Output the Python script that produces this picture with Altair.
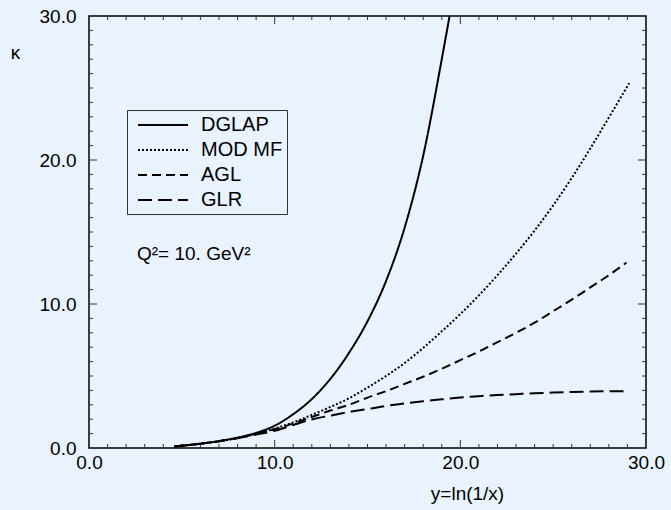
import altair as alt
import pandas as pd

# Gluon-density ratio kappa versus y = ln(1/x) at Q^2 = 10 GeV^2
series_names = ["DGLAP", "MOD MF", "AGL", "GLR"]

dglap_y = [4.6, 6, 7, 8, 9, 10, 11, 12, 13, 14, 15, 16, 17, 18, 19, 19.42]
dglap_k = [0.1, 0.3, 0.48, 0.72, 1.05, 1.55, 2.35, 3.4, 4.8, 6.6, 8.8, 11.6, 15.3, 20.3, 27.0, 30.0]

modmf_y = [4.6, 6, 7, 8, 9, 10, 11, 12, 13, 14, 15, 16, 17, 18, 19, 20, 21, 22, 23, 24, 25, 26, 27, 28, 29.1]
modmf_k = [0.1, 0.3, 0.47, 0.7, 1.0, 1.35, 1.78, 2.3, 2.85, 3.45, 4.2, 5.0, 5.9, 6.95, 8.1, 9.3, 10.6,
           12.0, 13.5, 15.1, 16.85, 18.75, 20.8, 22.95, 25.35]

agl_y = [4.6, 6, 7, 8, 9, 10, 11, 12, 13, 14, 15, 16, 17, 18, 19, 20, 21, 22, 23, 24, 25, 26, 27, 28, 28.95]
agl_k = [0.1, 0.3, 0.47, 0.7, 0.98, 1.3, 1.7, 2.15, 2.6, 3.0, 3.5, 3.95, 4.45, 4.95, 5.5, 6.1, 6.7,
         7.35, 8.0, 8.7, 9.5, 10.3, 11.15, 12.0, 12.88]

glr_y = [4.6, 6, 7, 8, 9, 10, 11, 12, 13, 14, 15, 16, 17, 18, 19, 20, 21, 22, 23, 24, 25, 26, 27, 28, 29.1]
glr_k = [0.1, 0.3, 0.47, 0.68, 0.93, 1.2, 1.6, 1.98, 2.25, 2.5, 2.7, 2.92, 3.1, 3.25, 3.38, 3.5, 3.6,
         3.68, 3.74, 3.8, 3.85, 3.89, 3.92, 3.94, 3.95]

major_ticks = [0, 10, 20, 30]
inner_major = [10, 20]
minor_ticks = [v for v in range(1, 30) if v % 10 != 0]

dash_styles = [[1, 0], [2, 2], [9, 5], [14, 6]]

W, H = 557, 432
BG = "#e8f3fd"
FONT = "Liberation Sans"

rows = []
for name, xs, ks in [("DGLAP", dglap_y, dglap_k), ("MOD MF", modmf_y, modmf_k),
                     ("AGL", agl_y, agl_k), ("GLR", glr_y, glr_k)]:
    for i, (a, b) in enumerate(zip(xs, ks)):
        rows.append({"series": name, "y": a, "kappa": b, "order": i})
curves = pd.DataFrame(rows)

xscale = alt.Scale(domain=[0, 30], nice=False, zero=False)
yscale = alt.Scale(domain=[0, 30], nice=False, zero=False)

# legend key: a horizontal stroke, 2.5 symbol-widths long, shifted to the right
legend_key = "M -0.4 0 L 4.6 0"

lines = alt.Chart(curves).mark_line(
    color="black", strokeWidth=2, clip=True, interpolate="monotone"
).encode(
    x=alt.X("y:Q", scale=xscale,
            axis=alt.Axis(values=major_ticks, format=".1f", ticks=False, domain=False, grid=False,
                          labelFontSize=19, labelFont=FONT, labelColor="black",
                          labelPadding=5, labelFlush=False, labelOverlap=False,
                          title="y=ln(1/x)", titleFont=FONT, titleFontSize=19,
                          titleFontWeight="normal", titleColor="black",
                          titleX=378, titleY=51, titleAlign="center", titleBaseline="alphabetic")),
    y=alt.Y("kappa:Q", scale=yscale,
            axis=alt.Axis(values=major_ticks, format=".1f", ticks=False, domain=False, grid=False,
                          labelFontSize=19, labelFont=FONT, labelColor="black",
                          labelPadding=13, labelFlush=False, labelOverlap=False,
                          title="κ", titleFont=FONT, titleFontSize=19,
                          titleFontWeight="normal", titleColor="black", titleAngle=0,
                          titleX=-74, titleY=36, titleAlign="center", titleBaseline="middle")),
    strokeDash=alt.StrokeDash(
        "series:N",
        scale=alt.Scale(domain=series_names, range=dash_styles),
        legend=alt.Legend(orient="none", legendX=38, legendY=94, title=None,
                          symbolType=legend_key, symbolSize=400, symbolStrokeWidth=2,
                          symbolStrokeColor="black", labelFontSize=20, labelFont=FONT,
                          labelColor="black", labelOffset=48, rowPadding=4, padding=4,
                          strokeColor="#333333", fillColor=BG),
    ),
    order="order:Q",
)

def tick_layer(values, length, side):
    df = pd.DataFrame({"v": values})
    base = alt.Chart(df).mark_rule(color="#333333", strokeWidth=1)
    if side == "bottom":
        return base.encode(x=alt.X("v:Q", scale=xscale), y=alt.value(H), y2=alt.value(H - length))
    if side == "top":
        return base.encode(x=alt.X("v:Q", scale=xscale), y=alt.value(0), y2=alt.value(length))
    if side == "left":
        return base.encode(y=alt.Y("v:Q", scale=yscale), x=alt.value(0), x2=alt.value(length))
    return base.encode(y=alt.Y("v:Q", scale=yscale), x=alt.value(W), x2=alt.value(W - length))

ticks = []
for side in ["bottom", "top", "left", "right"]:
    ticks.append(tick_layer(minor_ticks, 4, side))
    ticks.append(tick_layer(inner_major, 8, side))

note = alt.Chart(pd.DataFrame({"t": ["Q²= 10. GeV²"]})).mark_text(
    align="left", baseline="alphabetic", fontSize=19, font=FONT, color="black"
).encode(x=alt.value(48), y=alt.value(244), text="t:N")

chart = alt.layer(*ticks, lines, note).properties(
    width=W, height=H,
    background=BG,
    padding={"left": 89, "top": 16, "right": 25, "bottom": 62},
    autosize=alt.AutoSizeParams(type="none"),
).configure_view(stroke="black", strokeWidth=1.5, fill=BG)

chart.save("out.html", embed_options={"renderer": "svg", "actions": False})
